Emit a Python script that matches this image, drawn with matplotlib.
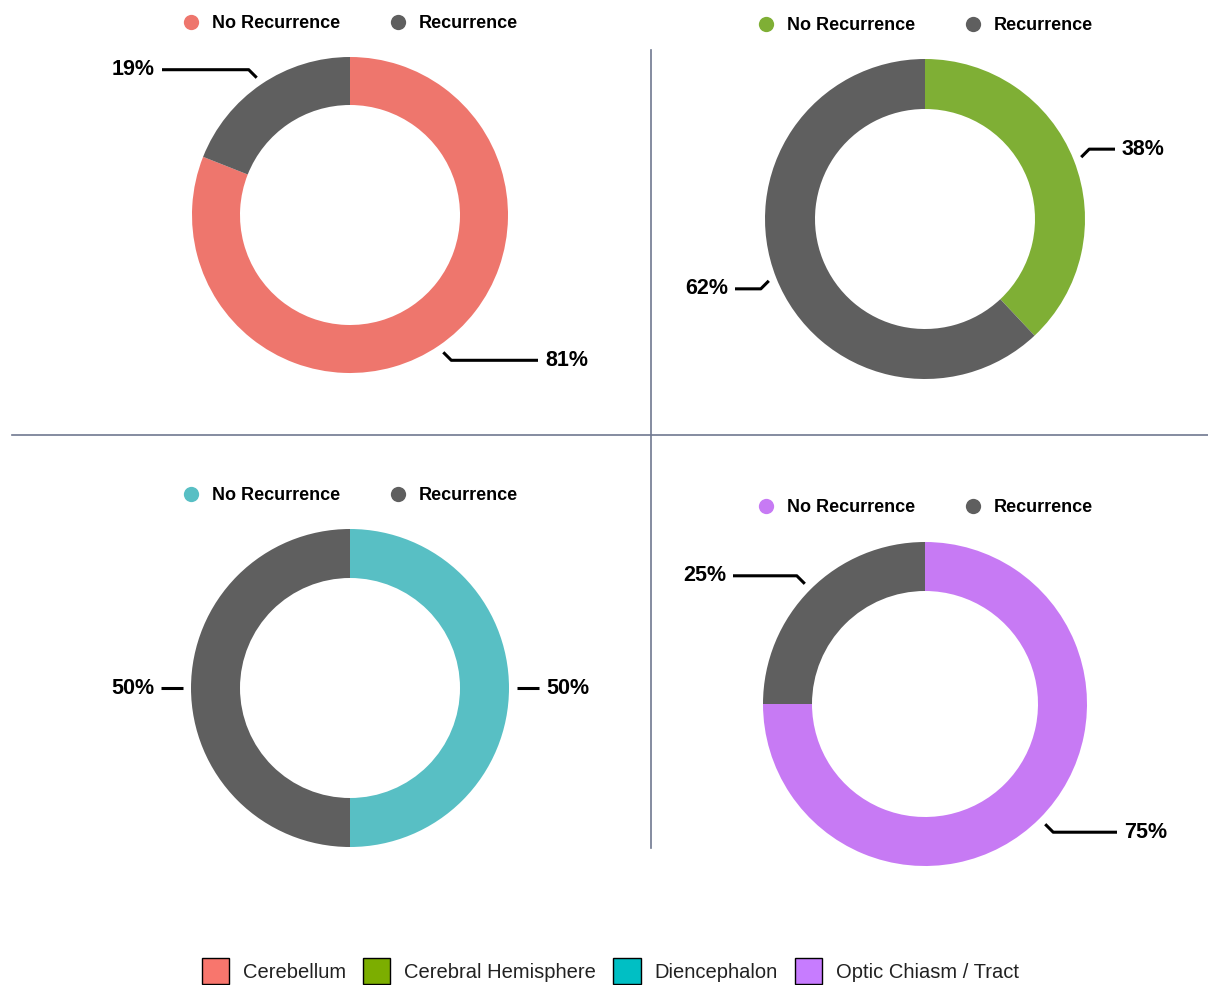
import numpy as np
import matplotlib
matplotlib.use("Agg")
import matplotlib.pyplot as plt
from matplotlib.lines import Line2D
from matplotlib.patches import Patch

plt.rcParams['font.family'] = ['Liberation Sans', 'DejaVu Sans']

# data
regions = ["Cerebellum", "Cerebral Hemisphere", "Diencephalon", "Optic Chiasm / Tract"]
status_labels = ["No Recurrence", "Recurrence"]
no_recurrence = [81, 38, 50, 75]
recurrence = [19, 62, 50, 25]

# colours
region_colors = ["#F8766D", "#7CAE00", "#00BFC4", "#C77CFF"]
donut_colors = ["#EE766D", "#7FAF35", "#58BFC4", "#C77AF4"]
rec_color = "#5F5F5F"

# layout in pixels (x from left, y from top)
W, H = 1208, 985
centers = [(350, 215), (925, 219), (350, 688), (925, 704)]
outer_r = [158, 160, 159, 162]
inner_r = [110, 110, 110, 113]
legend_y = [24, 26, 496, 508]

fig = plt.figure(figsize=(W / 100, H / 100), dpi=100)
ax = fig.add_axes([0, 0, 1, 1])

for i in range(4):
    cx, cy = centers[i][0], H - centers[i][1]
    R = outer_r[i]
    vals = [no_recurrence[i], recurrence[i]]
    cols = [donut_colors[i], rec_color]
    ax.pie(vals, colors=cols, center=(cx, cy), radius=R, startangle=90,
           counterclock=False, wedgeprops=dict(width=R - inner_r[i], linewidth=0))

    # leader lines + labels: short 45deg elbow, then horizontal
    start = 0.0
    for v in vals:
        mid = start + v / 200.0
        start += v / 100.0
        th = np.deg2rad(90 - mid * 360)
        dx, dy = np.cos(th), np.sin(th)
        x0, y0 = cx + (R + 8) * dx, cy + (R + 8) * dy
        side = 1 if dx > 0 else -1
        vert = 0 if abs(dy) < 1e-6 else np.sign(dy)
        x1, y1 = x0 + side * 8, y0 + vert * 8
        x2 = cx + side * (R + 30)
        ax.plot([x0, x1, x2], [y0, y1, y1], color="black", lw=2.2,
                solid_capstyle='butt')
        ax.text(x2 + side * 7, y1, f"{v}%", ha='left' if side > 0 else 'right',
                va='center', fontsize=15.5, fontweight='bold', color='black')

    handles = [Line2D([], [], marker='o', linestyle='none', markersize=11,
                      markerfacecolor=c, markeredgewidth=0) for c in cols]
    fig.legend(handles, status_labels, loc='center', ncol=2, frameon=False,
               bbox_to_anchor=(centers[i][0] / W, 1 - legend_y[i] / H),
               prop=dict(size=13, weight='bold'), handlelength=1.0,
               handletextpad=0.65, columnspacing=2.7)

# divider lines
ax.plot([651, 651], [H - 50, H - 848], color="#6F7890", lw=1.2)
ax.plot([12, W], [H - 435, H - 435], color="#6F7890", lw=1.2)

# pie() resets the limits, so set them last
ax.set_xlim(0, W)
ax.set_ylim(0, H)
ax.set_aspect('equal')
ax.axis('off')

# bottom legend
patches = [Patch(facecolor=c, edgecolor='black', linewidth=1.0) for c in region_colors]
fig.legend(patches, regions, loc='center', ncol=4, frameon=False,
           bbox_to_anchor=(610.5 / W, 14 / H), fontsize=14.5,
           handlelength=1.35, handleheight=1.65, handletextpad=0.7,
           columnspacing=0.85, labelcolor='#222222')

fig.savefig("out.png", dpi=100)
